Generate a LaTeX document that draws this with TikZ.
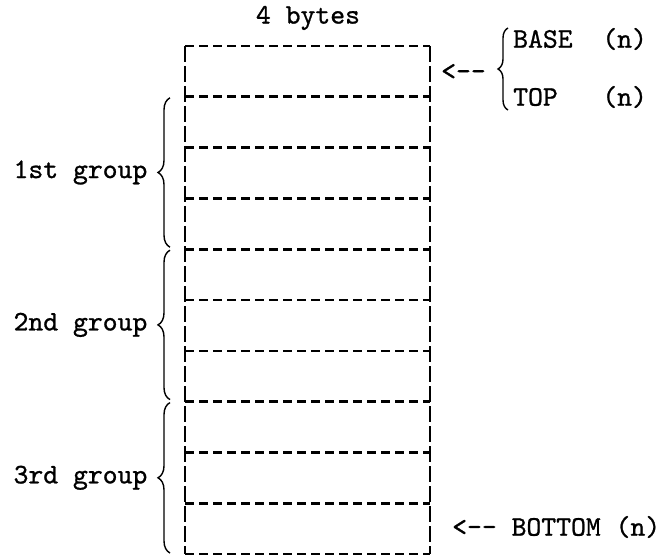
\documentclass[tikz,border=0pt]{standalone}
\usepackage{fontspec}
\setmonofont{lmmono10-regular.otf}[FakeBold=0.9]
\usetikzlibrary{decorations.pathreplacing}
\begin{document}
\begin{tikzpicture}[x=1pt,y=1pt,
  cellbox/.style={minimum width=245pt, minimum height=50.8pt, inner sep=0pt, outer sep=0pt},
  hline/.style={line width=2.6pt, dash pattern=on 9pt off 5pt},
  vline/.style={line width=2.6pt, dash pattern=on 16pt off 4pt},
  lbl/.style={font=\ttfamily\fontsize{28.3}{32}\selectfont, inner sep=0pt},
  grpbrace/.style={decorate, decoration={brace, amplitude=12pt}, line width=1.4pt}]
\useasboundingbox (0,0) rectangle (666,555);
\foreach \i in {0,...,9}
  \node[cellbox] (cell\i) at (307.5, {483.6-50.8*\i}) {};
\foreach \i in {0,...,9}
  \draw[hline] (cell\i.north west) -- (cell\i.north east);
\draw[hline] (cell9.south west) -- (cell9.south east);
\draw[vline] (cell0.north west) -- (cell9.south west);
\draw[vline] (cell0.north east) -- (cell9.south east);
\node[lbl] (bytes) at (308,537) {4 bytes};
% groups
\draw[grpbrace] ([xshift=-15pt,yshift=2pt]cell3.south west) -- ([xshift=-15pt,yshift=-1pt]cell1.north west)
  node[midway, left=22pt, lbl] (g1) {1st group};
\draw[grpbrace] ([xshift=-15pt,yshift=2pt]cell6.south west) -- ([xshift=-15pt,yshift=-1pt]cell4.north west)
  node[midway, left=22pt, lbl] (g2) {2nd group};
\draw[grpbrace] ([xshift=-15pt,yshift=1pt]cell9.south west) -- ([xshift=-15pt,yshift=-1pt]cell7.north west)
  node[midway, left=22pt, lbl] (g3) {3rd group};
% pointers
\node[lbl, anchor=west] (arrtop) at (441,483) {<--};
\draw[decorate, decoration={brace, amplitude=10pt}, line width=1.4pt] (508,445) -- (508,527);
\node[lbl, anchor=west] (base) at (513,516) {BASE~~(n)};
\node[lbl, anchor=west] (top) at (513,458) {TOP~~~(n)};
\node[lbl, anchor=west] (bottom) at (452,28) {<-- BOTTOM (n)};
\end{tikzpicture}
\end{document}
